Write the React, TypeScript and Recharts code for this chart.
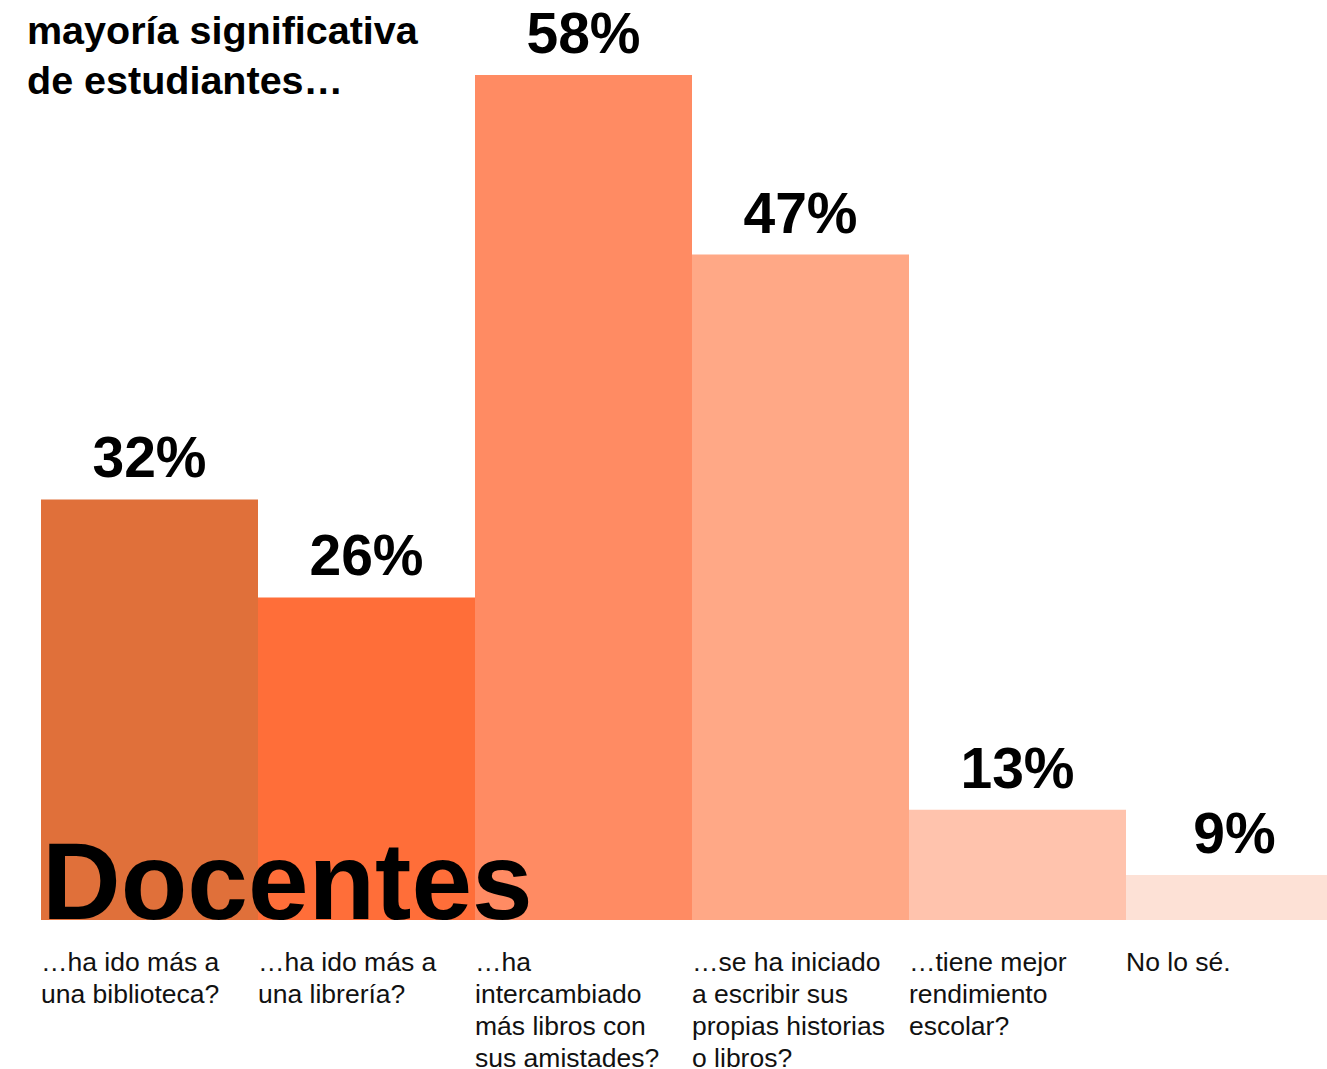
import React from "react";
import { BarChart, Bar, XAxis, YAxis, Cell, LabelList } from "recharts";

const categories = ["biblioteca", "libreria", "amistades", "escribir", "rendimiento", "nolose"];
const categoryLines: string[][] = [
  ["…ha ido más a", "una biblioteca?"],
  ["…ha ido más a", "una librería?"],
  ["…ha", "intercambiado", "más libros con", "sus amistades?"],
  ["…se ha iniciado", "a escribir sus", "propias historias", "o libros?"],
  ["…tiene mejor", "rendimiento", "escolar?"],
  ["No lo sé."],
];
const values = [32, 26, 58, 47, 13, 9];
const valueLabels = ["32%", "26%", "58%", "47%", "13%", "9%"];
const colors = ["#E0703A", "#FF6E39", "#FF8B63", "#FFA886", "#FFC3AD", "#FDE1D6"];
const titleLines = ["mayoría significativa", "de estudiantes…"];
const bigLabel = "Docentes";

const data = categories.map((c, i) => ({ name: c, value: values[i], label: valueLabels[i] }));

const FONT = "'Liberation Sans', Arial, Helvetica, sans-serif";

const Tick = (props: any) => {
  const { x, y, payload } = props;
  const idx = categories.indexOf(payload.value);
  const lines = categoryLines[idx] || [];
  return (
    <g>
      {lines.map((l, i) => (
        <text
          key={i}
          x={x - 108.5}
          y={y + 43 + i * 32}
          textAnchor="start"
          fontSize={26.5}
          fontFamily={FONT}
          fill="#111"
        >
          {l}
        </text>
      ))}
    </g>
  );
};

const ValueLabel = (props: any) => {
  const { x, y, width, index } = props;
  return (
    <text
      x={x + width / 2}
      y={y - 22}
      textAnchor="middle"
      fontSize={57}
      fontWeight="bold"
      fontFamily={FONT}
      fill="#000"
    >
      {valueLabels[index]}
    </text>
  );
};

export default function App() {
  return (
    <div
      style={{
        position: "absolute",
        left: 0,
        top: 0,
        width: 1327,
        height: 1069,
        overflow: "hidden",
        background: "#fff",
      }}
    >
      <BarChart
        width={1343}
        height={1069}
        data={data}
        margin={{ top: 0, right: 0, left: 41, bottom: 0 }}
        barCategoryGap={0}
      >
        <XAxis
          dataKey="name"
          height={149}
          axisLine={false}
          tickLine={false}
          interval={0}
          tick={<Tick />}
        />
        <YAxis hide domain={[6.24, 62.59]} allowDataOverflow />
        <Bar dataKey="value" isAnimationActive={false}>
          {data.map((d, i) => (
            <Cell key={d.name} fill={colors[i]} />
          ))}
          <LabelList dataKey="label" content={<ValueLabel />} />
        </Bar>
      </BarChart>
      <svg
        width={1327}
        height={1069}
        style={{ position: "absolute", left: 0, top: 0, pointerEvents: "none" }}
      >
        {titleLines.map((t, i) => (
          <text
            key={i}
            x={27}
            y={44 + i * 50}
            fontSize={39.5}
            fontWeight="bold"
            fontFamily={FONT}
            fill="#000"
          >
            {t}
          </text>
        ))}
        <text x={42} y={919} fontSize={109} fontWeight="bold" fontFamily={FONT} fill="#000">
          {bigLabel}
        </text>
      </svg>
    </div>
  );
}
